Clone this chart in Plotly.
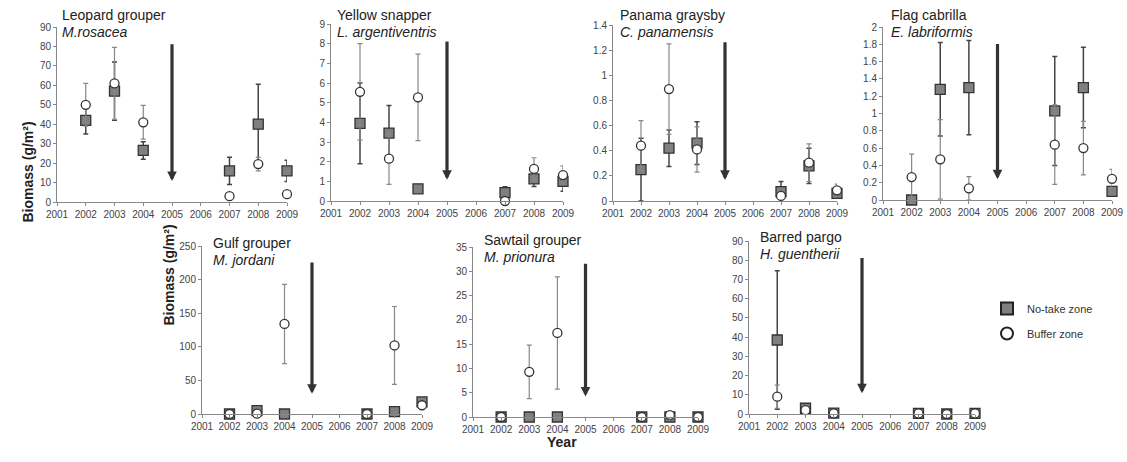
import plotly.graph_objects as go

W, H = 1127, 462

years = [2002, 2003, 2004, 2007, 2008, 2009]
tick_years = [2001, 2002, 2003, 2004, 2005, 2006, 2007, 2008, 2009]

species = ["Leopard grouper", "Yellow snapper", "Panama graysby", "Flag cabrilla",
           "Gulf grouper", "Sawtail grouper", "Barred pargo"]
latin = ["M.rosacea", "L. argentiventris", "C. panamensis", "E. labriformis",
         "M. jordani", "M. prionura", "H. guentherii"]

# No-take zone means and errors
nt_leopard = [42, 57, 26.5, 16, 40, 16]
nt_leopard_err = [7, 15, 4.5, 7, 20.5, 5.5]
nt_yellow = [3.95, 3.45, 0.62, 0.43, 1.12, 1.0]
nt_yellow_err = [2.05, 1.4, 0.15, 0.3, 0.38, 0.5]
nt_panama = [0.25, 0.42, 0.46, 0.075, 0.28, 0.06]
nt_panama_err = [0.25, 0.145, 0.17, 0.08, 0.14, 0.03]
nt_flag = [0.0, 1.28, 1.3, 1.03, 1.3, 0.1]
nt_flag_err = [0.0, 0.54, 0.545, 0.63, 0.465, 0.03]
nt_gulf = [0, 5, 0, 0, 3.5, 18]
nt_gulf_err = [0, 1, 0, 0, 1, 2]
nt_sawtail = [0, 0, 0, 0, 0, 0]
nt_sawtail_err = [0, 0, 0, 0, 0, 0]
nt_barred = [38.5, 3, 0.5, 0.3, 0, 0.3]
nt_barred_err = [36, 1, 0.2, 0.1, 0, 0.1]

# Buffer zone means and errors
bz_leopard = [50, 61, 41, 3, 19.5, 4]
bz_leopard_err = [11, 18.5, 8.7, 0, 3.5, 0]
bz_yellow = [5.55, 2.15, 5.27, 0.0, 1.63, 1.32]
bz_yellow_err = [2.45, 1.3, 2.2, 0, 0.57, 0.47]
bz_panama = [0.44, 0.89, 0.41, 0.04, 0.305, 0.085]
bz_panama_err = [0.2, 0.36, 0.18, 0, 0.15, 0.05]
bz_flag = [0.265, 0.47, 0.135, 0.64, 0.6, 0.245]
bz_flag_err = [0.265, 0.46, 0.135, 0.46, 0.31, 0.11]
bz_gulf = [0, 0.5, 134, 0, 102, 13]
bz_gulf_err = [0, 0, 59, 0, 58, 3]
bz_sawtail = [0, 9.3, 17.3, 0, 0.4, 0]
bz_sawtail_err = [0, 5.5, 11.55, 0, 0, 0]
bz_barred = [9, 2, 0.3, 0.3, 0, 0.3]
bz_barred_err = [6, 0.8, 0.1, 0.1, 0, 0.1]

ymax = [90, 9, 1.4, 2, 250, 35, 90]
ydtick = [10, 1, 0.2, 0.2, 50, 5, 10]

notake = [nt_leopard, nt_yellow, nt_panama, nt_flag, nt_gulf, nt_sawtail, nt_barred]
notake_err = [nt_leopard_err, nt_yellow_err, nt_panama_err, nt_flag_err,
              nt_gulf_err, nt_sawtail_err, nt_barred_err]
buffer = [bz_leopard, bz_yellow, bz_panama, bz_flag, bz_gulf, bz_sawtail, bz_barred]
buffer_err = [bz_leopard_err, bz_yellow_err, bz_panama_err, bz_flag_err,
              bz_gulf_err, bz_sawtail_err, bz_barred_err]

# pixel boxes (left, right, top, bottom) of each panel
boxes = [(57, 287, 27, 202), (331, 563, 24, 201), (613, 837, 25, 201), (883, 1112, 27, 200),
         (202, 422, 246, 414), (473, 698, 247, 417), (749, 975, 241, 414)]
title_pos = [(60, 15), (335, 15), (618, 15), (889, 15), (211, 243), (482, 240), (758, 237)]

def px(x):
    return x / W

def py(y):
    return 1 - y / H

FONT = "Liberation Sans, Arial, sans-serif"
fig = go.Figure()
layout = dict(template="none", width=W, height=H, margin=dict(l=0, r=0, t=0, b=0, pad=0),
              autosize=False, plot_bgcolor="white", paper_bgcolor="white",
              font=dict(family=FONT, color="#333"))
annotations = []

for i in range(7):
    n = i + 1
    xa = "x" if n == 1 else f"x{n}"
    ya = "y" if n == 1 else f"y{n}"
    l, r, t, b = boxes[i]
    layout["xaxis" if n == 1 else f"xaxis{n}"] = dict(
        domain=[px(l), px(r)], range=[2001, 2009], anchor=ya, automargin=False,
        tickvals=tick_years, ticks="outside", ticklen=3, tickcolor="#888",
        showline=True, linecolor="#888", linewidth=1, showgrid=False, zeroline=False,
        tickfont=dict(size=10, color="#444", family=FONT))
    layout["yaxis" if n == 1 else f"yaxis{n}"] = dict(
        domain=[py(b), py(t)], range=[0, ymax[i]], anchor=xa, dtick=ydtick[i],
        automargin=False, ticks="outside", ticklen=3, tickcolor="#888",
        showline=True, linecolor="#888", linewidth=1, showgrid=False, zeroline=False,
        tickfont=dict(size=10, color="#444", family=FONT))

    fig.add_trace(go.Scatter(
        x=years, y=notake[i], xaxis=xa, yaxis=ya, mode="markers", name="No-take zone",
        showlegend=False, cliponaxis=False,
        marker=dict(symbol="square", size=10, color="#808080", line=dict(color="#333", width=1.3)),
        error_y=dict(type="data", array=notake_err[i], color="#444", thickness=1.5, width=2.5)))
    fig.add_trace(go.Scatter(
        x=years, y=buffer[i], xaxis=xa, yaxis=ya, mode="markers", name="Buffer zone",
        showlegend=False, cliponaxis=False,
        marker=dict(symbol="circle", size=9, color="white", line=dict(color="#333", width=1.3)),
        error_y=dict(type="data", array=buffer_err[i], color="#888", thickness=1.2, width=2.5)))

    # arrow marking 2005
    annotations.append(dict(x=2005, y=0.12 * ymax[i], ax=2005, ay=0.91 * ymax[i],
                            xref=xa, yref=ya, axref=xa, ayref=ya, text="",
                            showarrow=True, arrowhead=2, arrowsize=0.6, arrowwidth=3.2,
                            arrowcolor="#333"))
    tx, ty = title_pos[i]
    annotations.append(dict(x=px(tx), y=py(ty), xref="paper", yref="paper", text=species[i],
                            showarrow=False, xanchor="left", yanchor="middle",
                            font=dict(size=14, color="#222", family=FONT)))
    annotations.append(dict(x=px(tx), y=py(ty + 17), xref="paper", yref="paper",
                            text=f"<i>{latin[i]}</i>",
                            showarrow=False, xanchor="left", yanchor="middle",
                            font=dict(size=14, color="#222", family=FONT)))

# legend-only entries (larger symbols, as in the reference legend)
fig.add_trace(go.Scatter(x=[None], y=[None], mode="markers", name="No-take zone",
                         legendgroup="nt",
                         marker=dict(symbol="square", size=12, color="#808080",
                                     line=dict(color="#222", width=2))))
fig.add_trace(go.Scatter(x=[None], y=[None], mode="markers", name="Buffer zone",
                         legendgroup="bz",
                         marker=dict(symbol="circle", size=12, color="white",
                                     line=dict(color="#222", width=2))))

annotations.append(dict(x=px(17), y=py(120), xref="paper", yref="paper",
                        text="<b>Biomass (g/m²)</b>", textangle=-90, showarrow=False,
                        font=dict(size=14, color="#222", family=FONT)))
annotations.append(dict(x=px(158), y=py(328), xref="paper", yref="paper",
                        text="<b>Biomass (g/m²)</b>", textangle=-90, showarrow=False,
                        font=dict(size=14, color="#222", family=FONT)))
annotations.append(dict(x=px(562), y=py(452), xref="paper", yref="paper",
                        text="<b>Year</b>", showarrow=False,
                        font=dict(size=14, color="#222", family=FONT)))

layout["annotations"] = annotations
layout["showlegend"] = True
layout["legend"] = dict(x=px(987), y=py(294), xanchor="left", yanchor="top",
                        font=dict(size=11, color="#333", family=FONT),
                        tracegroupgap=6, bgcolor="rgba(0,0,0,0)")
fig.update_layout(**layout)
fig.write_html("out.html", config={"displayModeBar": False},
               post_script="document.body.style.margin='0';document.body.style.overflow='hidden';")
